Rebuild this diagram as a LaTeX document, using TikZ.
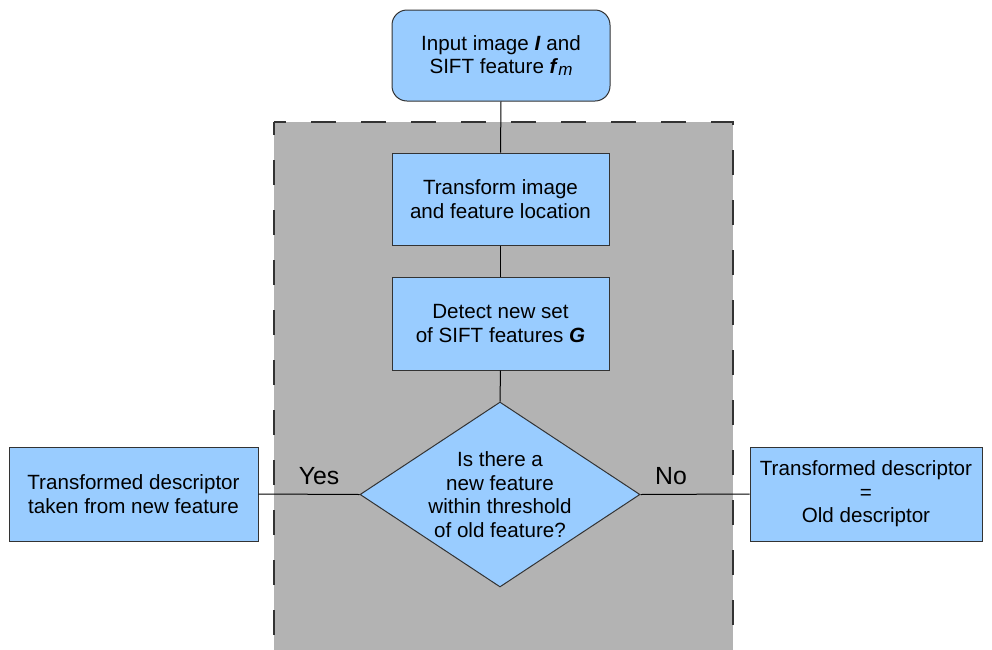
\documentclass[tikz,border=0pt]{standalone}
\usepackage{fontspec}
\setmainfont{Liberation Sans}
\usetikzlibrary{shapes.geometric}
\definecolor{boxblue}{HTML}{99CCFF}
\definecolor{panelgray}{HTML}{B3B3B3}
\definecolor{edgegray}{HTML}{333333}
\begin{document}
\begin{tikzpicture}[x=0.5pt, y=-0.5pt,
  font=\fontsize{10.3}{11.8}\selectfont,
  box/.style={draw=edgegray, line width=0.5pt, fill=boxblue, align=center, inner sep=0pt},
  link/.style={draw=black, line width=0.5pt},
  paneledge/.style={draw=edgegray, line width=1pt, dash pattern=on 12.5pt off 12.5pt},
  tag/.style={font=\fontsize{12.4}{14}\selectfont, inner sep=0pt}]
\useasboundingbox (0,0) rectangle (992,649);

% grey processing panel, open at the bottom
\begin{scope}
  \clip (0,0) rectangle (992,649);
  \fill[panelgray] (274,122) rectangle (733,700);
  \draw[paneledge, dash phase=6.5pt] (274,122) -- (733,122) -- (733,700);
  \draw[paneledge, dash phase=6pt] (274,122) -- (274,700);
\end{scope}

% flow nodes
\node[box, rounded corners=7.5pt, minimum width=109pt, minimum height=45.5pt] (input) at (501,55.5)
  {Input image \textbf{\textit{I}} and\\SIFT feature \textbf{\textit{f}}\raisebox{-1pt}{\fontsize{8.5}{9}\selectfont\itshape m}};
\node[box, minimum width=108.5pt, minimum height=46pt] (transform) at (500.5,199)
  {Transform image\\and feature location};
\node[box, minimum width=108.5pt, minimum height=46.5pt] (detect) at (500.5,323.5)
  {Detect new set\\of SIFT features \textbf{\textit{G}}};
\node[box, diamond, shape aspect=1.5, minimum width=140pt, minimum height=92.5pt] (query) at (500,494.5) {};
\node[align=center, inner sep=0pt] (querytext) at (query.center)
  {Is there a\\new feature\\within threshold\\of old feature?};
\node[box, minimum width=124.5pt, minimum height=47pt] (yesbox) at (133.5,494)
  {Transformed descriptor\\taken from new feature};
\node[box, minimum width=116pt, minimum height=47pt] (nobox) at (866,494)
  {Transformed descriptor\\=\\Old descriptor};

% connectors
\draw[link] (input.south) -- (transform.north);
\draw[link] (transform.south) -- (detect.north);
\draw[link] (detect.south) -- (query.north);
\draw[link] (query.west) -- (yesbox.east);
\draw[link] (query.east) -- (nobox.west);

% branch labels
\node[tag] (yeslabel) at (319,476) {Yes};
\node[tag] (nolabel) at (671,476) {No};
\end{tikzpicture}
\end{document}
